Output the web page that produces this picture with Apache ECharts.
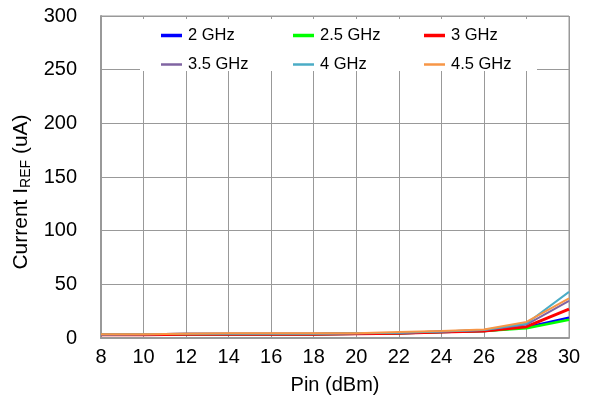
<!DOCTYPE html>
<html><head><meta charset="utf-8">
<script src="https://cdn.jsdelivr.net/npm/echarts@6/dist/echarts.min.js"></script>
<style>html,body{margin:0;padding:0;background:#fff}#c{width:592px;height:410px}</style>
</head><body><div id="c"></div>
<script>
const pin = [8,10,12,14,16,18,20,22,24,26,28,30];
const seriesNames = ['2 GHz','2.5 GHz','3 GHz','3.5 GHz','4 GHz','4.5 GHz'];
const s2 = [3,3,3.5,3.5,3.5,3.5,4,4.5,5.5,6.5,10,19];
const s25 = [3,3,3.5,3.5,3.5,3.5,4,4.5,5.5,6.5,9,17];
const s3 = [3,3,3.5,3.5,3.5,3.5,4,4.5,5.5,6.5,10.5,27];
const s35 = [3,3.5,4,4,4,4,4.5,5,6,7.5,12.5,34.5];
const s4 = [3.5,3.5,4,4,4,4,4.5,5,6,7.5,13.5,43];
const s45 = [3.5,3.5,4,4.5,4.5,4.5,4.5,5.5,6.5,8,15,37];
const values = [s2,s25,s3,s35,s4,s45];
const colors = ['#0000FF','#00FF00','#FF0000','#8064A2','#4BACC6','#F79646'];
const widths = [2.5,2.5,3,2,2,2];

const font = 'Liberation Sans, Arial, sans-serif';
const chart = echarts.init(document.getElementById('c'));
const series = seriesNames.map((n,i)=>({
  name:n, type:'line', data: pin.map((x,j)=>[x, values[i][j]]),
  showSymbol:false, symbol:'none', color:colors[i],
  lineStyle:{color:colors[i], width:widths[i]}, z: 2+i
}));
const colX = [161, 293, 424];
const rowY = [35, 64];
const legends = seriesNames.map((n,i)=>{
  const r = Math.floor(i/3), c = i%3;
  const ih = r===0 ? 3.5 : 2.5;
  return {left:colX[c], top:rowY[r]-8, itemWidth:21, itemHeight:ih, icon:'rect',
    itemGap:0, padding:0, z:10, data:[n],
    textStyle:{fontFamily:font, fontSize:16.5, color:'#000', padding:[0,0,0,1]}};
});
chart.setOption({
  animation:false,
  grid:{left:101, right:23, top:16, bottom:72, show:true, borderColor:'#999', borderWidth:1},
  graphic:[{type:'rect', shape:{x:140, y:19, width:397, height:52}, style:{fill:'#fff'}, z:5}],
  legend: legends,
  xAxis:{type:'value', min:8, max:30, interval:2,
    name:'Pin (dBm)', nameLocation:'middle', nameGap:37,
    nameTextStyle:{fontFamily:font, fontSize:20, color:'#000'},
    axisLine:{show:true, lineStyle:{color:'#999', width:2}},
    axisTick:{show:false},
    axisLabel:{fontFamily:font, fontSize:20, color:'#000', margin:9},
    splitLine:{show:true, lineStyle:{color:'#999', width:1}}
  },
  yAxis:{type:'value', min:0, max:300, interval:50,
    name:'Current I{sub|REF} (uA)', nameLocation:'middle', nameGap:64,
    nameTextStyle:{fontFamily:font, fontSize:21, color:'#000', padding:[0,30,0,0],
      rich:{sub:{fontFamily:font, fontSize:14, color:'#000', verticalAlign:'bottom', padding:[10,0,0,0]}}},
    axisLine:{show:true, lineStyle:{color:'#999', width:2}},
    axisTick:{show:false},
    axisLabel:{fontFamily:font, fontSize:20, color:'#000', margin:24},
    splitLine:{show:true, lineStyle:{color:'#999', width:1}}
  },
  series: series
});
</script></body></html>
